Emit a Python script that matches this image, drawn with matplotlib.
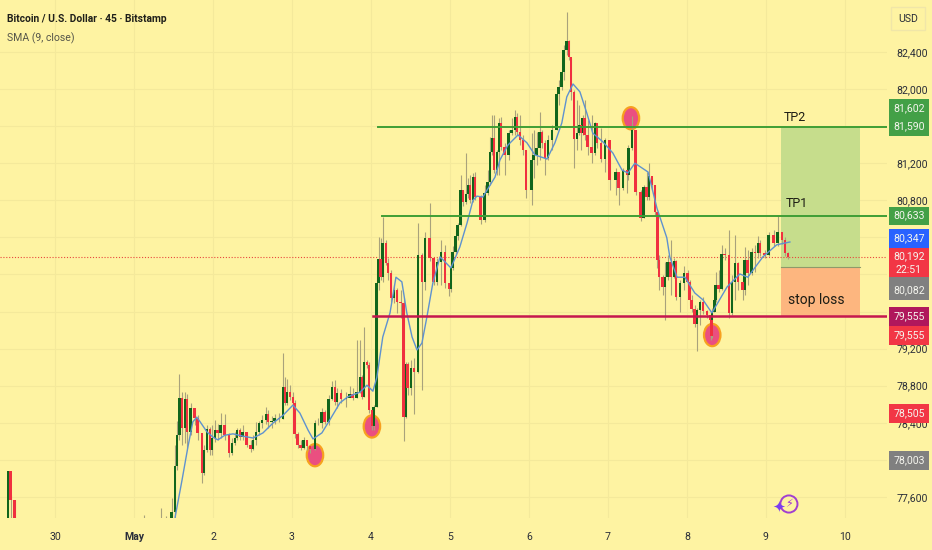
import matplotlib
matplotlib.use("Agg")
import matplotlib.pyplot as plt
import numpy as np
from matplotlib.patches import Ellipse, Rectangle
from matplotlib.ticker import FuncFormatter

plt.rcParams['font.family'] = ['Roboto', 'DejaVu Sans']

# hours since 30 Apr 00:00
hours = [
    -14.3, -13.4, -12.2, 27.0, 32.2, 33.7,
    35.5, 36.5, 37.1, 37.8, 38.6, 39.5, 40.1, 41.3, 42.5, 43.4,
    44.7, 45.3, 46.2, 47.1, 47.7, 48.6, 49.5, 50.4, 51.6, 52.9,
    53.8, 54.7, 55.3, 56.2, 57.1, 58.3, 59.5, 60.2, 61.1, 62.0,
    62.9, 64.1, 64.7, 65.9, 66.8, 68.1, 69.3, 69.9, 70.5, 71.4,
    72.3, 72.9, 73.8, 74.7, 75.6, 76.6, 77.5, 79.0, 79.9, 81.1,
    82.0, 83.2, 84.2, 85.1, 85.7, 86.9, 88.4, 89.6, 90.5, 91.7,
    92.7, 93.3, 93.9, 94.8, 95.4, 96.3, 96.9, 97.8, 98.4, 99.0,
    99.6, 100.6, 101.2, 102.1, 103.0, 103.9, 105.1, 106.0, 106.6, 107.2,
    108.2, 109.1, 110.3, 111.5, 112.4, 113.9, 115.1, 116.1, 117.3, 118.5,
    119.7, 120.3, 120.9, 121.8, 122.4, 123.3, 124.0, 124.9, 125.5, 126.1,
    127.0, 127.6, 129.4, 130.6, 131.5, 132.2, 132.8, 133.4, 134.3, 134.9,
    135.5, 136.7, 137.9, 138.8, 139.8, 140.4, 141.3, 142.2, 143.1, 144.9,
    145.5, 146.4, 147.3, 148.0, 148.9, 149.8, 151.0, 152.5, 153.1, 154.0,
    154.6, 155.5, 156.2, 156.8, 157.7, 158.6, 159.2, 159.8, 160.4, 161.0,
    161.9, 163.1, 164.1, 164.7, 165.9, 167.1, 168.6, 170.4, 171.3, 172.6,
    173.8, 174.2, 175.3, 176.5, 178.0, 178.9, 179.8, 180.5, 181.4, 182.3,
    183.0, 183.5, 184.7, 185.3, 186.2, 187.1, 188.1, 188.7, 189.9, 191.1,
    192.3, 192.9, 193.5, 194.4, 195.0, 196.0, 196.9, 198.1, 199.0, 199.4,
    199.6, 200.3, 200.8, 201.7, 202.6, 203.5, 204.8, 205.7, 206.6, 207.5,
    209.0, 209.6, 210.5, 211.7, 212.7, 213.6, 214.2, 215.7, 216.9, 218.4,
    219.6, 220.9, 221.8, 222.7,
]
closes = [
    77880, 77570, 77200, 77250, 77250, 77300,
    77440, 77930, 78265, 78670, 78340, 78660, 78300, 78560, 78450, 78290,
    77860, 78105, 78330, 78105, 78235, 78320, 78290, 78375, 78265, 78070,
    78180, 78235, 78320, 78245, 78300, 78160, 78120, 78215, 78300, 78395,
    78430, 78495, 78410, 78420, 78450, 78440, 78785, 78615, 78735, 78680,
    78615, 78280, 78160, 78130, 78215, 78150, 78120, 78395, 78395, 78515,
    78410, 78660, 78785, 78625, 78720, 78660, 78670, 78715, 78670, 78735,
    78890, 78680, 79055, 79020, 78535, 78370, 78570, 79905, 80165, 79975,
    80340, 80125, 80015, 79745, 79830, 79700, 79690, 78460, 79035, 78775,
    78990, 78945, 80210, 79920, 80395, 80175, 79920, 80130, 80240, 79905,
    79840, 80065, 80240, 80415, 80530, 80910, 80780, 80865, 80965, 80800,
    81050, 80835, 80585, 80880, 81000, 81320, 81470, 81125, 81320, 81635,
    81375, 81290, 81525, 81560, 81700, 81535, 81450, 81340, 80910, 81235,
    81290, 81365, 81535, 81420, 81255, 81450, 81560, 81945, 82020, 82185,
    82420, 82520, 82345, 81970, 81460, 81525, 81610, 81525, 81690, 81505,
    81375, 81310, 81635, 81420, 81245, 81450, 81020, 81105, 80935, 81125,
    81070, 81365, 81560, 80890, 80610, 80945, 80835, 81060, 80965, 80675,
    80155, 79970, 79865, 79970, 80130, 79970, 80145, 79755, 79905, 80015,
    79920, 79725, 79625, 79465, 79615, 79700, 79605, 79560, 79510, 79335,
    79595, 79725, 79885, 79840, 80220, 80210, 79580, 79920, 80125, 79920,
    79830, 80155, 80015, 80240, 80230, 80340, 80230, 80210, 80425, 80340,
    80460, 80370, 80230, 80190,
]
highs = [
    77880, 77620, 77570, 77400, 77480, 77390,
    77590, 78160, 78420, 78925, 78730, 78730, 78710, 78615, 78535, 78480,
    78290, 78160, 78375, 78355, 78375, 78430, 78385, 78505, 78495, 78290,
    78235, 78300, 78345, 78345, 78375, 78300, 78215, 78265, 78410, 78420,
    78480, 78570, 78535, 78470, 78495, 78505, 79150, 78890, 78870, 78805,
    78730, 78645, 78300, 78215, 78245, 78215, 78160, 78430, 78450, 78560,
    78535, 78700, 78850, 78860, 78775, 78765, 78730, 78795, 78775, 79290,
    79290, 78915, 79430, 79075, 79055, 78535, 78590, 80045, 80405, 80395,
    80620, 80370, 80175, 80045, 79885, 79855, 79830, 79745, 79055, 79055,
    79075, 79095, 80555, 80230, 80455, 80770, 80135, 80175, 80370, 80320,
    79905, 80135, 80305, 80480, 80555, 81075, 80910, 81310, 81040, 81075,
    81095, 81105, 80855, 80965, 81125, 81480, 81720, 81720, 81340, 81690,
    81700, 81420, 81560, 81690, 81775, 81740, 81720, 81505, 81340, 81525,
    81560, 81535, 81755, 81560, 81450, 81505, 81610, 81990, 82100, 82205,
    82475, 82830, 82530, 82335, 81990, 81880, 81830, 81665, 81720, 81880,
    81665, 81720, 81645, 81610, 81580, 81470, 81235, 81150, 81095, 81150,
    81125, 81395, 81710, 81560, 80910, 80965, 81105, 81200, 81040, 80965,
    80660, 80210, 79995, 80135, 80210, 80370, 80175, 80155, 79940, 80090,
    80045, 79940, 79780, 79670, 79640, 79725, 79755, 79615, 79560, 79510,
    79640, 79745, 80025, 80045, 80320, 80285, 80480, 79995, 80425, 80135,
    79960, 80295, 80265, 80285, 80320, 80415, 80370, 80265, 80460, 80480,
    80630, 80455, 80405, 80240,
]
lows = [
    77200, 77300, 77150, 77200, 77200, 77200,
    77240, 77370, 77890, 78215, 78160, 78180, 78130, 78265, 78375, 78215,
    77750, 77835, 78085, 78050, 78050, 78190, 78215, 78235, 78215, 78030,
    78050, 78160, 78215, 78215, 78215, 78140, 78085, 78105, 78160, 78265,
    78345, 78385, 78345, 78345, 78385, 78410, 78440, 78590, 78590, 78645,
    78590, 78235, 78130, 78105, 78120, 78105, 78075, 78105, 78375, 78345,
    78385, 78375, 78645, 78590, 78560, 78615, 78570, 78690, 78645, 78665,
    78720, 78655, 78680, 78990, 78505, 78320, 78320, 78570, 79830, 79940,
    79920, 80100, 79940, 79700, 79690, 79585, 79530, 78205, 78450, 78700,
    78700, 78495, 78935, 78755, 79830, 80145, 79885, 79885, 79885, 79855,
    79770, 79810, 80045, 80210, 80370, 80520, 80740, 80760, 80825, 80770,
    80780, 80800, 80545, 80565, 80855, 80965, 81290, 81095, 81075, 81075,
    81340, 81075, 81235, 81505, 81505, 81505, 81395, 81290, 80825, 80750,
    81040, 81180, 81235, 81365, 81075, 81235, 81340, 81560, 81830, 81990,
    82100, 82370, 82315, 81880, 81150, 81340, 81505, 81340, 81505, 81450,
    81290, 81200, 81290, 81365, 81215, 81105, 80910, 80855, 80750, 80910,
    80880, 81020, 81340, 80855, 80575, 80610, 80800, 80800, 80910, 80640,
    80070, 79830, 79775, 79510, 79940, 79775, 79960, 79725, 79595, 79830,
    79885, 79670, 79595, 79435, 79175, 79455, 79575, 79530, 79345, 79290,
    79315, 79595, 79700, 79810, 79830, 80155, 79530, 79560, 79725, 79830,
    79725, 79775, 79885, 79995, 80025, 80175, 80200, 80175, 80200, 80305,
    80305, 80330, 80200, 80165,
]

sma_hours = [
    36.5, 38.6, 40.4, 41.9, 43.1, 44.1, 46.2, 48.0, 49.5, 51.6, 54.1, 57.1,
    60.2, 63.2, 66.2, 69.3, 72.3, 74.4, 76.9, 78.4, 81.1, 83.5, 86.6, 89.0,
    92.7, 94.8, 96.6, 97.8, 99.6, 101.8, 103.6, 105.4, 106.9, 108.5, 110.0,
    111.5, 113.0, 114.8, 117.0, 120.3, 123.0, 125.2, 127.0, 128.2, 130.0,
    133.7, 135.2, 137.6, 140.7, 143.4, 145.8, 149.5, 151.9, 154.0, 155.5,
    157.4, 159.5, 161.6, 163.4, 166.5, 169.5, 172.3, 174.1, 176.2, 180.2,
    182.9, 185.9, 186.8, 189.0, 191.4, 194.4, 196.9, 199.6, 204.2, 208.1,
    210.5, 215.1, 219.3, 223.3,
]
sma_values = [
    77380, 77780, 78140, 78410, 78460, 78410, 78300, 78245, 78215, 78265, 78280, 78255,
    78235, 78290, 78395, 78480, 78590, 78505, 78320, 78225, 78290, 78430, 78615, 78680,
    78730, 78805, 78740, 78890, 79325, 79585, 79970, 79920, 79585, 79325, 79185,
    79260, 79540, 79905, 80190, 80070, 80295, 80555, 80800, 80845, 80835,
    81050, 81235, 81395, 81505, 81420, 81290, 81245, 81420, 81635, 81915,
    82055, 81970, 81740, 81525, 81430, 81310, 81125, 81095, 81200, 81105,
    80715, 80395, 80190, 79970, 79970, 79800, 79725, 79585, 79865, 80005,
    79970, 80190, 80320, 80350,
]

day_ticks = [0, 24, 48, 72, 96, 120, 144, 168, 192, 216, 240]
day_labels = ['30', 'May', '2', '3', '4', '5', '6', '7', '8', '9', '10']
# the other round prices sit behind the coloured tags
price_ticks = [77600, 78400, 78800, 79200, 80800, 81200, 82000, 82400]
grid_prices = [78000, 79600, 80000, 80400, 81600]

last_price = 80192
tp2 = 81590
tp1 = 80633
stop = 79555
entry = 80082

# marked swing points: hour, price
mark_hours = [79.0, 96.3, 175.0, 199.7]
mark_prices = [78050, 78360, 81685, 79346]

BG = '#fef3a2'
GRID = '#f4e99b'
GREEN = '#11651c'
RED = '#f0303f'

W, H = 932, 550
fig = plt.figure(figsize=(W / 100, H / 100), dpi=100, facecolor=BG)
ax = fig.add_axes([0, 1 - 518 / H, 887 / W, 518 / H], facecolor=BG)
ax.set_xlim(-16.7, 252.8)
ax.set_ylim(77372, 82961)

ax.yaxis.tick_right()
ax.set_yticks(price_ticks)
ax.yaxis.set_major_formatter(FuncFormatter(lambda v, p: f'{int(v):,}'))
ax.set_xticks(day_ticks)
ax.set_xticklabels(day_labels)
ax.get_xticklabels()[1].set_fontweight('bold')
ax.tick_params(length=0, labelsize=7.6, labelcolor='#2a2e39')
ax.tick_params(axis='x', pad=10)
ax.tick_params(axis='y', pad=7)
ax.grid(color=GRID, lw=0.8)
ax.set_axisbelow(True)
for p in grid_prices:
    ax.axhline(p, color=GRID, lw=0.8, zorder=0.5)
for s in ax.spines.values():
    s.set_visible(False)

# target and stop zones
ax.axhspan(entry, tp2, xmin=(220.6 + 16.7) / 269.5, xmax=(244.6 + 16.7) / 269.5, color='#c6dd8c', lw=0, zorder=1)
ax.axhspan(stop, entry, xmin=(220.6 + 16.7) / 269.5, xmax=(244.6 + 16.7) / 269.5, color='#fdb67f', lw=0, zorder=1)
ax.plot([220.6, 244.6], [entry, entry], color='#8f9a6a', lw=0.8, zorder=1.5)

ax.axhline(last_price, color='#e8473c', lw=0.8, ls=(0, (1, 1.6)), zorder=1.5)

for h, p in zip(mark_hours, mark_prices):
    ax.add_patch(Ellipse((h, p), 5.0, 240, fc='#ea4f80', ec='#f7a01f', lw=1.6, zorder=2))

# candles
hours = np.array(hours)
closes = np.array(closes)
opens = np.r_[77100, closes[:-1]]
up = closes >= opens
ax.vlines(hours, lows, highs, color='#a9a27c', lw=0.8, zorder=3)
ax.bar(hours[up], (closes - opens)[up], bottom=opens[up], width=0.85, color=GREEN, lw=0, zorder=4)
ax.bar(hours[~up], (closes - opens)[~up], bottom=opens[~up], width=0.85, color=RED, lw=0, zorder=4)
ax.plot(sma_hours, sma_values, color='#5f92cf', lw=1, zorder=5)

# levels
ax.plot([98.0, 252.8], [tp2, tp2], color='#3f9e35', lw=1.4, zorder=5)
ax.plot([99.5, 252.8], [tp1, tp1], color='#3f9e35', lw=1.4, zorder=5)
ax.plot([96.5, 252.8], [stop, stop], color='#c5174f', lw=1.8, zorder=5)

ax.text(224.8, 81690, 'TP2', fontsize=9, color='#1c1c14', ha='center', va='center', zorder=6)
ax.text(225.4, 80760, 'TP1', fontsize=9, color='#1c1c14', ha='center', va='center', zorder=6)
ax.text(231.2, 79725, 'stop loss', fontsize=10, color='#1c1c14', ha='center', va='center', zorder=6)


def tag(top, bottom, color, texts):
    fig.add_artist(Rectangle((889 / W, 1 - bottom / H), 40 / W, (bottom - top) / H,
                             transform=fig.transFigure, fc=color, ec='none', zorder=2))
    for label, y in texts:
        fig.text(909 / W, 1 - y / H, label, color='#f5f5ee', fontsize=7.6,
                 ha='center', va='center', zorder=3)


tag(99, 136, '#43a047', [('81,602', 108), ('81,590', 126)])
tag(207, 225, '#43a047', [('80,633', 215)])
tag(229, 248, '#2962ff', [('80,347', 238)])
tag(248, 277, '#f23645', [('80,192', 256), ('22:51', 270)])
tag(277, 300, '#808080', [('80,082', 290)])
tag(307, 326, '#b0175c', [('79,555', 316)])
tag(326, 345, '#f23645', [('79,555', 335)])
tag(404, 423, '#f23645', [('78,505', 413)])
tag(451, 470, '#808080', [('78,003', 460)])

fig.add_artist(Rectangle((891 / W, 1 - 30 / H), 34 / W, 23 / H, transform=fig.transFigure,
                         fc=BG, ec='#f0e6a8', lw=1, zorder=2))
fig.text(908 / W, 1 - 19 / H, 'USD', fontsize=7.6, color='#2a2e39', ha='center', va='center', zorder=3)

fig.text(7 / W, 1 - 19 / H, 'Bitcoin / U.S. Dollar · 45 · Bitstamp', fontsize=7.4, fontweight='bold',
         color='#1f1f1a', va='center')
fig.text(7 / W, 1 - 38 / H, 'SMA (9, close)', fontsize=7.6, color='#55554a', va='center')

# little badge at the bottom
ax.add_patch(Ellipse((223.0, 77523), 5.2, 185, fc=BG, ec='#a13fd0', lw=1.4, zorder=6))
ax.text(223.0, 77523, '⚡', fontsize=8, color='#9b35d0', family='DejaVu Sans', ha='center', va='center', zorder=7)
ax.text(220.0, 77490, '✦', fontsize=11, color='#7a3df0', family='DejaVu Sans', ha='center', va='center', zorder=7)

fig.savefig('out.png', dpi=100, facecolor=BG)
